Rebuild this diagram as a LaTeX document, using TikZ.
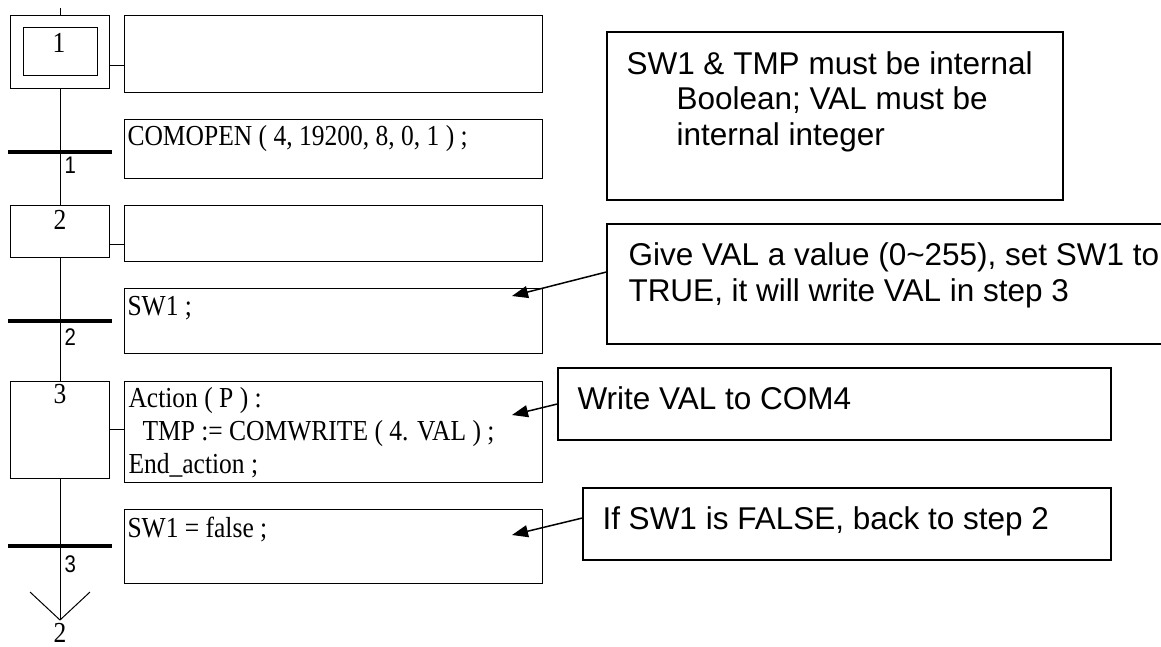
\documentclass[tikz,border=0pt]{standalone}
\usepackage{fontspec}
\setmainfont{Liberation Serif}
\newfontfamily\codefont[FakeStretch=0.88]{Liberation Serif}
\newfontfamily\notefont{Liberation Sans}
\newfontfamily\numfont[FakeStretch=0.85]{Liberation Sans}
\usetikzlibrary{arrows.meta}

\begin{document}
\begin{tikzpicture}[
    x=1pt, y=-1pt,
    line width=1pt,
    stepbox/.style = {draw, minimum width=99pt, inner sep=0pt},
    actbox/.style = {draw, minimum width=418pt, inner sep=0pt},
    bar/.style = {fill, minimum width=104pt, minimum height=3.5pt, inner sep=0pt},
    notebox/.style = {draw, line width=1.3pt, inner sep=0pt},
    code/.style = {font=\codefont\fontsize{29}{33}\selectfont, inner sep=0pt, align=left},
    stepnum/.style = {font=\codefont\fontsize{29}{33}\selectfont, inner sep=0pt},
    transnum/.style = {font=\numfont\fontsize{24}{28}\selectfont, inner sep=0pt},
    notetext/.style = {font=\notefont\fontsize{31.5}{35.5}\selectfont, inner sep=0pt, align=left},
    pointer/.style = {-{Triangle[length=16pt, width=12pt]}, line width=1.5pt}
]
    \useasboundingbox (0,0) rectangle (1161,646);

    % steps and their actions
    \node[stepbox, minimum height=73pt] (s1) at (60,51.5) {};
    \node[draw, minimum width=74pt, minimum height=48pt, inner sep=0pt] (s1in) at (60,51) {};
    \node[stepnum, anchor=base] (s1num) at (59,52) {1};
    \node[actbox, minimum height=77pt] (a1) at (333,53.5) {};

    \node[stepbox, minimum height=52pt] (s2) at (60,231) {};
    \node[stepnum, anchor=base] (s2num) at (60,229) {2};
    \node[actbox, minimum height=56pt] (a2) at (333,233) {};

    \node[stepbox, minimum height=97pt] (s3) at (60,429.5) {};
    \node[stepnum, anchor=base] (s3num) at (60,403) {3};
    \node[actbox, minimum height=101pt] (a3) at (333,431.5) {};
    % base of a multi-line node is its last line
    \node[code, anchor=base west] (a3code) at (128,473) {Action ( P ) :\\\hspace*{14pt}TMP := COMWRITE ( 4. VAL ) ;\\End\_action ;};

    % transitions and their conditions
    \node[bar] (b1) at (60,152) {};
    \node[transnum, anchor=base west] (b1num) at (64,173) {1};
    \node[actbox, minimum height=59pt] (t1) at (333,148.5) {};
    \node[code, anchor=base west] (t1code) at (127,145) {COMOPEN ( 4, 19200, 8, 0, 1 ) ;};

    \node[bar] (b2) at (60,321) {};
    \node[transnum, anchor=base west] (b2num) at (64,345) {2};
    \node[actbox, minimum height=65pt] (t2) at (333,320.5) {};
    \node[code, anchor=base west] (t2code) at (127,315) {SW1 ;};

    \node[bar] (b3) at (60,546) {};
    \node[transnum, anchor=base west] (b3num) at (64,572) {3};
    \node[actbox, minimum height=74pt] (t3) at (333,546) {};
    \node[code, anchor=base west] (t3code) at (127,537) {SW1 = false ;};

    % jump back
    \coordinate (top) at (60,8);
    \coordinate (tip) at (60,620);
    \coordinate (vl) at (30,592);
    \coordinate (vr) at (90,592);
    \node[stepnum, anchor=base] (jump) at (60,642) {2};

    \draw (top) -- (s1.north);
    \draw (s1.south) -- (s2.north);
    \draw (s2.south) -- (s3.north);
    \draw (s3.south) -- (tip);
    \draw (vl) -- (tip) -- (vr);

    \draw ([yshift=-13.5pt]s1.east) -- ([yshift=-11.5pt]a1.west);
    \draw ([yshift=-13pt]s2.east) -- ([yshift=-11pt]a2.west);
    \draw (s3.east) -- (s3.east -| a3.west);

    % notes
    \node[notebox, minimum width=456pt, minimum height=168pt] (n1) at (835,116) {};
    \node[notetext, anchor=base west] (n1txt) at (626,145) {SW1 \& TMP must be internal\\\hspace*{50pt}Boolean; VAL must be\\\hspace*{50pt}internal integer};

    \node[notebox, minimum width=563pt, minimum height=120pt] (n2) at (888.5,284) {};
    \node[notetext, anchor=base west] (n2txt) at (628,301) {Give VAL a value (0\textasciitilde255), set SW1 to\\TRUE, it will write VAL in step 3};

    \node[notebox, minimum width=553pt, minimum height=72pt] (n3) at (834.5,404) {};
    \node[notetext, anchor=base west] (n3txt) at (577,409) {Write VAL to COM4};

    \node[notebox, minimum width=528pt, minimum height=72pt] (n4) at (847,524) {};
    \node[notetext, anchor=base west] (n4txt) at (602,529) {If SW1 is FALSE, back to step 2};

    \coordinate (p2) at (512,296);
    \coordinate (p3) at (512,415);
    \coordinate (p4) at (512,535);
    \draw[pointer] ([yshift=12pt]n2.west) -- (p2);
    \draw[pointer] (n3.west) -- (p3);
    \draw[pointer] ([yshift=6pt]n4.west) -- (p4);
\end{tikzpicture}
\end{document}
